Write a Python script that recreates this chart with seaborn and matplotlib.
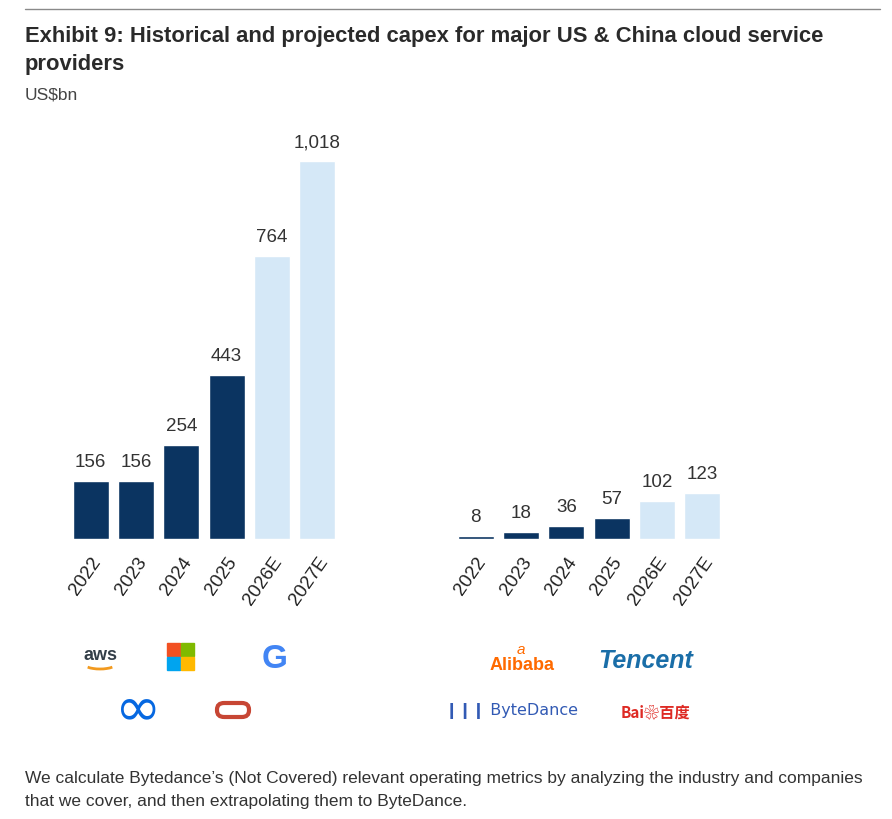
import matplotlib.pyplot as plt
import matplotlib.patches as mpatches
import seaborn as sns
import pandas as pd

# Capex, US$bn (E = projected)
years = ["2022", "2023", "2024", "2025", "2026E", "2027E"]
us_capex = [156, 156, 254, 443, 764, 1018]
china_capex = [8, 18, 36, 57, 102, 123]
is_estimate = [False, False, False, False, True, True]

DARK = "#0b3461"
LIGHT = "#d5e8f7"
TEXT = "#333333"

sns.set_theme(style="white")
plt.rcParams['font.family'] = ['Liberation Sans', 'DejaVu Sans']

fig = plt.figure(figsize=(8.92, 8.20), dpi=100)
fig.patch.set_facecolor("white")

# Axes placed to line up the two bar groups on a shared scale
ax_us = fig.add_axes([68 / 892, 280 / 820, 272 / 892, 408 / 820])
ax_cn = fig.add_axes([453 / 892, 280 / 820, 272 / 892, 408 / 820])

palette = [LIGHT if e else DARK for e in is_estimate]

for ax, vals in [(ax_us, us_capex), (ax_cn, china_capex)]:
    df = pd.DataFrame({"year": years, "capex": vals})
    sns.barplot(data=df, x="year", y="capex", hue="year", palette=palette,
                legend=False, width=0.79, ax=ax, saturation=1)
    ax.set_ylim(0, 1100)
    ax.set_xlim(-0.5, len(years) - 0.5)
    ax.set_xlabel("")
    ax.set_ylabel("")
    ax.set_yticks([])
    sns.despine(ax=ax, left=True, bottom=True)
    ax.tick_params(axis="x", length=0, pad=10)
    for lab in ax.get_xticklabels():
        lab.set_rotation(55)
        lab.set_ha("right")
        lab.set_rotation_mode("anchor")
        lab.set_fontsize(13.5)
        lab.set_color("#222222")
    for i, v in enumerate(vals):
        ax.annotate(f"{v:,}", (i, v), xytext=(0, 8), textcoords="offset points",
                    ha="center", va="bottom", fontsize=13.5, color=TEXT)

# Header
fig.add_artist(plt.Line2D([25 / 892, 880 / 892], [1 - 10 / 820] * 2,
                          color="#8a8a8a", lw=1))
fig.text(25 / 892, 1 - 26 / 820,
         "Exhibit 9: Historical and projected capex for major US & China cloud service\nproviders",
         fontsize=15.8, fontweight="bold", color="#2a2a2a",
         va="top", linespacing=1.45)
fig.text(25 / 892, 1 - 95 / 820, "US$bn", fontsize=12.5,
         color="#444444", va="center")

# Logo stand-ins (US)
def px(x, y):
    return x / 892, 1 - y / 820

fig.text(*px(100, 656), "aws", ha="center", va="center", fontsize=13,
         color="#333e48", fontweight="bold")
fig.add_artist(mpatches.Arc(px(100, 664), 34 / 892, 12 / 820, theta1=200, theta2=340,
                            color="#f29a1e", lw=2, transform=fig.transFigure))
sq = 13
for (dx, dy), c in zip([(0, 0), (1, 0), (0, 1), (1, 1)],
                       ["#f25022", "#7fba00", "#00a4ef", "#ffb900"]):
    x0 = 167 + dx * (sq + 1)
    y0 = 644 + dy * (sq + 1)
    fig.add_artist(mpatches.Rectangle(px(x0, y0 + sq), sq / 892, sq / 820,
                                      color=c, transform=fig.transFigure))
fig.text(*px(275, 660), "G", ha="center", va="center", fontsize=24,
         color="#4285f4", fontweight="bold")
fig.text(*px(138, 710), "\u221e", ha="center", va="center", fontsize=40,
         color="#0668e1", family="DejaVu Sans")
fig.add_artist(mpatches.FancyBboxPatch(px(217, 718), 32 / 892, 14 / 820,
                                       boxstyle="round,pad=0,rounding_size=0.008",
                                       fill=False, ec="#c74634", lw=3,
                                       transform=fig.transFigure))

# Logo stand-ins (China)
fig.text(*px(522, 665), "Alibaba", ha="center", va="center", fontsize=13,
         color="#ff6a00", fontweight="bold")
fig.text(*px(521, 650), "a", ha="center", va="center", fontsize=11,
         color="#ff6a00", style="italic")
fig.text(*px(646, 661), "Tencent", ha="center", va="center", fontsize=18,
         color="#1a6ea8", fontweight="bold", style="italic")
fig.text(*px(511, 711), "\u2759\u2759\u2759 ByteDance", ha="center", va="center",
         fontsize=11.5, color="#325ab4", family=['DejaVu Sans'])
fig.text(*px(655, 713), "Bai\u2740\u767e\u5ea6", ha="center", va="center",
         fontsize=11, color="#de2a24", fontweight="bold",
         family=['Noto Sans CJK SC', 'DejaVu Sans'])

# Footnote
fig.text(25 / 892, 1 - 790 / 820,
         "We calculate Bytedance\u2019s (Not Covered) relevant operating metrics by analyzing the industry and companies\n"
         "that we cover, and then extrapolating them to ByteDance.",
         fontsize=12.5, color="#333333", va="center", linespacing=1.6)

fig.savefig("out.png", dpi=100)
